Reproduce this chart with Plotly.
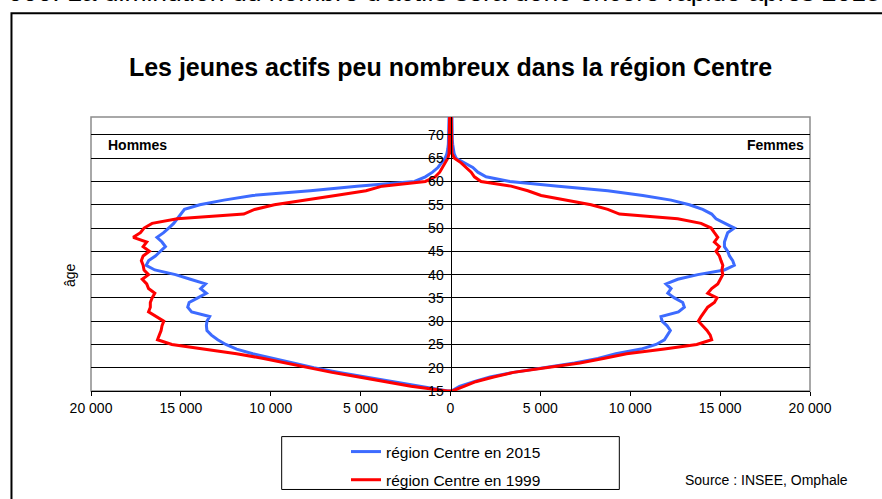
import plotly.graph_objects as go

# tranches d'âge 15 -> 74 ans
ages = list(range(15, 75))

hommes_2015 = [150, 1800, 3300, 4700, 6200, 7600, 8800, 9900, 11000, 11900,
               12500, 12950, 13300, 13550, 13580, 13550, 13400, 14400, 14620, 14540,
               14060, 13580, 13900, 13630, 14470, 15300, 16450, 16930, 16790, 16420,
               16140, 15860, 16050, 16330, 15960, 15680, 15400, 15180, 15000, 14800,
               13950, 12610, 11000, 7800, 5200, 2000, 1400, 1000, 700, 500,
               300, 200, 150, 120, 100, 100, 90, 80, 80, 80]
femmes_2015 = [50, 500, 1300, 2200, 3500, 5200, 6900, 8200, 9200, 10600,
               11440, 11900, 12050, 12230, 12050, 11770, 11710, 12680, 13010, 12920,
               12460, 12090, 12270, 11990, 12640, 13760, 15240, 15790, 15700, 15520,
               15420, 15240, 15240, 15330, 15420, 15790, 15240, 14770, 14530, 14030,
               13290, 12270, 10700, 8750, 6000, 3300, 1980, 1520, 1240, 780,
               310, 200, 150, 120, 100, 100, 90, 80, 80, 80]
hommes_1999 = [200, 2200, 3700, 5100, 6600, 8000, 9200, 10400, 11900, 13700,
               15500, 16300, 16200, 16100, 16050, 15950, 16400, 16800, 16700, 16700,
               16600, 16450, 16800, 16900, 17150, 16800, 17050, 17100, 17200, 17100,
               16750, 17100, 16900, 17650, 17250, 17050, 16600, 15200, 11500, 10900,
               9800, 8150, 6400, 4700, 3800, 1400, 850, 600, 450, 300,
               150, 80, 70, 60, 60, 50, 50, 50, 50, 50]
femmes_1999 = [100, 750, 1400, 2400, 3500, 5300, 7200, 8500, 9800, 11900,
               13700, 14530, 14450, 14270, 14030, 13790, 13940, 14120, 14310, 14680,
               14830, 14310, 14530, 14870, 15020, 15150, 15100, 15150, 15050, 14960,
               14770, 14960, 14680, 14870, 14680, 14500, 13940, 12640, 9400, 8750,
               7820, 6530, 5040, 4300, 3370, 1700, 1330, 1150, 870, 590,
               220, 80, 70, 60, 60, 50, 50, 50, 50, 50]

x_ticks = [-20000, -15000, -10000, -5000, 0, 5000, 10000, 15000, 20000]
x_labels = [f"{abs(v):,}".replace(",", " ") for v in x_ticks]
y_ticks = list(range(15, 75, 5))

FONT = "Arial, Liberation Sans, sans-serif"
W, H = 882, 499


def pyramide(hommes, femmes):
    # hommes a gauche (negatif), femmes a droite, un seul trait continu
    x = [-v for v in reversed(hommes)] + femmes
    y = list(reversed(ages)) + ages
    return x, y


fig = go.Figure()
x, y = pyramide(hommes_2015, femmes_2015)
fig.add_trace(go.Scatter(x=x, y=y, mode="lines", name="région Centre en 2015",
                         line=dict(color="#3D6BFF", width=3), legendgroup="a"))
x, y = pyramide(hommes_1999, femmes_1999)
fig.add_trace(go.Scatter(x=x, y=y, mode="lines", name="région Centre en 1999",
                         line=dict(color="#FF0000", width=3), legendgroup="b"))

# cadre general et bordure de la zone de tracé
fig.add_shape(type="rect", xref="paper", yref="paper", x0=-0.1106, x1=1.2, y0=-0.6, y1=1.3787,
              line=dict(color="black", width=2), layer="below")
fig.add_shape(type="rect", xref="paper", yref="paper", x0=0, x1=1, y0=0, y1=1,
              line=dict(color="#8C8C8C", width=1.5), layer="below")
# cadre de la légende
fig.add_shape(type="rect", xref="paper", yref="paper", x0=0.2652, x1=0.7348, y0=-0.3594, y1=-0.1664,
              line=dict(color="black", width=1))

# bas de la ligne de texte de la page, coupée par le haut de l'image
fig.add_annotation(text="000. La diminution du nombre d'actifs sera donc encore rapide après 2015",
                   xref="paper", yref="paper", x=-0.118, y=1.3958, xanchor="left", yanchor="bottom",
                   showarrow=False, font=dict(family=FONT, size=26.5, color="black"))
fig.add_annotation(text="<b>Hommes</b>", xref="paper", yref="y", x=0.021, y=67.8,
                   xanchor="left", yanchor="middle", showarrow=False,
                   font=dict(family=FONT, size=14, color="black"))
fig.add_annotation(text="<b>Femmes</b>", xref="paper", yref="y", x=0.994, y=67.8,
                   xanchor="right", yanchor="middle", showarrow=False,
                   font=dict(family=FONT, size=14, color="black"))
fig.add_annotation(text="âge", xref="paper", yref="paper", x=-0.03, y=0.425, textangle=-90,
                   xanchor="center", yanchor="middle",
                   showarrow=False, font=dict(family=FONT, size=14, color="black"))
fig.add_annotation(text="Source : INSEE, Omphale", xref="paper", yref="paper", x=0.823, y=-0.325,
                   xanchor="left", yanchor="middle", showarrow=False,
                   font=dict(family=FONT, size=14, color="black"))

fig.update_layout(
    width=W, height=H,
    margin=dict(l=91, r=72, t=117, b=108, autoexpand=False),
    paper_bgcolor="white", plot_bgcolor="white",
    font=dict(family=FONT, size=14, color="black"),
    title=dict(text="<b>Les jeunes actifs peu nombreux dans la région Centre</b>",
               x=0.5, xref="paper", xanchor="center", y=1 - 67 / H, yref="container",
               yanchor="middle", font=dict(family=FONT, size=25, color="black")),
    legend=dict(x=346 / W, y=1 - 435 / H, xref="container", yref="container",
                xanchor="left", yanchor="top", bgcolor="rgba(0,0,0,0)",
                font=dict(family=FONT, size=15.5, color="black"), tracegroupgap=5,
                traceorder="grouped"),
    xaxis=dict(range=[-20000, 20000], tickvals=x_ticks, ticktext=x_labels,
               showgrid=False, zeroline=False, showline=True, linecolor="black", linewidth=1,
               ticks="outside", ticklen=4, tickcolor="black",
               tickfont=dict(family=FONT, size=14, color="black")),
    yaxis=dict(range=[15, 73.85], tickvals=y_ticks, anchor="free", position=0.5,
               showgrid=True, gridcolor="black", gridwidth=1, zeroline=False,
               showline=True, linecolor="black", linewidth=1,
               ticks="outside", ticklen=4, tickcolor="black",
               tickfont=dict(family=FONT, size=14, color="black")),
)

# la page html garde sinon une marge de 8 px autour du graphique
fig.write_html("out.html", config={"displayModeBar": False},
               post_script="document.body.style.margin = '0';")
